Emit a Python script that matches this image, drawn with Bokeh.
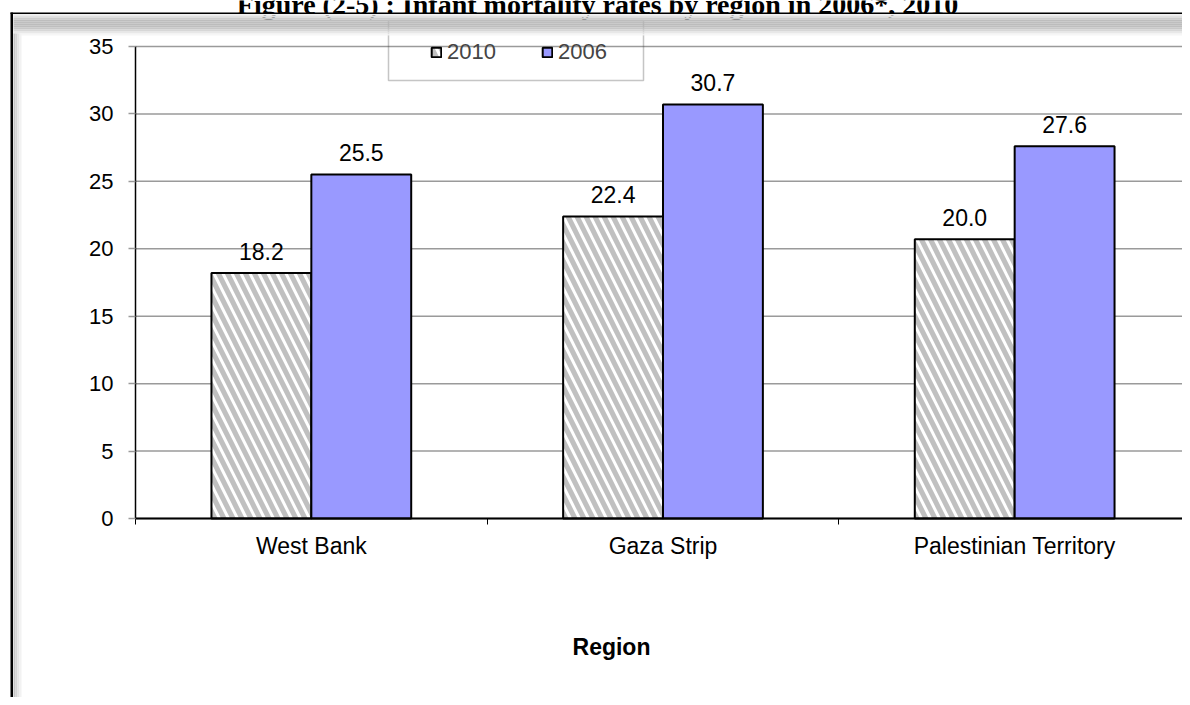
from bokeh.plotting import figure
from bokeh.models import (Range1d, FixedTicker, LinearAxis, ColumnDataSource,
                          Legend, LegendItem, BoxAnnotation, Label)
from bokeh.transform import dodge
from bokeh.core.properties import value
from bokeh.embed import file_html
from bokeh.resources import INLINE

# ---------------- data ----------------
regions = ["West Bank", "Gaza Strip", "Palestinian Territory"]
years = ["2010", "2006"]
rate_2010 = [18.2, 22.4, 20.7]
rate_2006 = [25.5, 30.7, 27.6]
label_2010 = ["18.2", "22.4", "20.0"]
label_2006 = ["25.5", "30.7", "27.6"]
y_ticks = [0, 5, 10, 15, 20, 25, 30, 35]
title_text = "Figure (2-5) : Infant mortality rates by region in 2006*, 2010"
x_title = "Region"

# ---------------- layout constants (pixels) ----------------
W, H = 1182, 697
X0_PX, XN_PX = 135, 1190      # plot area left / right
Y0_PX, YT_PX = 518, 46        # value 0 / top value
BAR_W = 0.284
FONT = "Liberation Sans"

n = len(regions)
y_max = y_ticks[-1]
x_per = (XN_PX - X0_PX) / n
y_per = (Y0_PX - YT_PX) / y_max

pos = [i + 0.5 for i in range(n)]
bounds = [i for i in range(n + 1)]
src = ColumnDataSource(dict(pos=pos, r2010=rate_2010, r2006=rate_2006,
                            l2010=label_2010, l2006=label_2006))
grid_src = ColumnDataSource(dict(y=y_ticks, x0=[0] * len(y_ticks), x1=[n] * len(y_ticks)))

p = figure(width=W, height=H,
           x_range=Range1d(-X0_PX / x_per, (W - X0_PX) / x_per),
           y_range=Range1d(-(H - Y0_PX) / y_per, y_max + YT_PX / y_per),
           x_axis_type=None, y_axis_type=None, output_backend="svg", toolbar_location=None,
           min_border=0)
p.outline_line_color = None
p.xgrid.visible = False
p.ygrid.visible = False

# horizontal grid lines (behind the bars)
p.segment(x0="x0", x1="x1", y0="y", y1="y", source=grid_src,
          line_color="#9a9a9a", line_width=1.5)

# y axis
yaxis = LinearAxis(ticker=FixedTicker(ticks=y_ticks), fixed_location=0, bounds=(0, y_max))
yaxis.axis_line_color = "black"
yaxis.axis_line_width = 1.5
yaxis.major_tick_line_color = "#9a9a9a"
yaxis.major_tick_line_width = 1.5
yaxis.major_tick_out = 7
yaxis.major_tick_in = 0
yaxis.minor_tick_line_color = None
yaxis.major_label_standoff = 15
yaxis.major_label_text_font = FONT
yaxis.major_label_text_font_size = "22px"
yaxis.major_label_text_color = "black"
p.add_layout(yaxis, "left")

# x axis: labels at category centres, ticks at category boundaries
xaxis = LinearAxis(ticker=FixedTicker(ticks=pos, minor_ticks=bounds), fixed_location=0,
                   bounds=(0, n))
xaxis.major_label_overrides = {pp: r for pp, r in zip(pos, regions)}
xaxis.axis_line_color = "black"
xaxis.axis_line_width = 2
xaxis.major_tick_line_color = None
xaxis.major_tick_out = 0
xaxis.major_tick_in = 0
xaxis.minor_tick_line_color = "black"
xaxis.minor_tick_out = 6
xaxis.minor_tick_in = 0
xaxis.major_label_standoff = 8
xaxis.major_label_text_font = FONT
xaxis.major_label_text_font_size = "23px"
xaxis.major_label_text_color = "black"
p.add_layout(xaxis, "below")

# bars
b10 = p.vbar(x=dodge("pos", -BAR_W / 2), top="r2010", width=BAR_W, source=src,
             fill_color="#c0c0c0", line_color="black", line_width=2,
             hatch_pattern="left_diagonal_line", hatch_color="white",
             hatch_weight=3, hatch_scale=18)
b06 = p.vbar(x=dodge("pos", BAR_W / 2), top="r2006", width=BAR_W, source=src,
             fill_color="#9999ff", line_color="black", line_width=2)

# value labels
for col, lab, off in (("r2010", "l2010", -BAR_W / 2), ("r2006", "l2006", BAR_W / 2)):
    p.text(x=dodge("pos", off), y=col, text=lab, source=src, text_align="center",
           text_baseline="alphabetic", y_offset=-22, text_color="black",
           text_font=value(FONT), text_font_size="23px")


# helpers: picture pixel -> screen units (origin bottom-left)
def sx(px):
    return px


def sy(py):
    return H - py


def box(x0, x1, y0, y1, **kw):
    b = BoxAnnotation(left=sx(x0), right=sx(x1), top=sy(y0), bottom=sy(y1),
                      left_units="screen", right_units="screen",
                      top_units="screen", bottom_units="screen", **kw)
    p.add_layout(b)
    return b


# title (clipped at the top edge, as in the source picture)
p.add_layout(Label(x=sx(597), y=sy(4), x_units="screen", y_units="screen", text=title_text,
                   text_align="center", text_baseline="alphabetic",
                   text_font="Liberation Serif", text_font_style="bold",
                   text_font_size="28px", text_color="black", level="underlay"))

# legend
legend = Legend(items=[LegendItem(label=years[0], renderers=[b10]),
                       LegendItem(label=years[1], renderers=[b06])],
                orientation="horizontal", location=(430, sy(65)), padding=0, margin=0,
                spacing=45, glyph_width=12, glyph_height=12, label_standoff=5,
                label_text_font=FONT, label_text_font_size="22px",
                border_line_color=None, background_fill_alpha=0)
p.add_layout(legend)
# legend frame
box(388, 643, 20, 80, fill_color=None, fill_alpha=0, line_color="#404040", line_width=1.5)

# top bevel band
band = ["#f0f0f0", "#e0e0e0", "#cccccc", "#bdbdbd", "#b3b3b3", "#b0b0b0",
        "#b3b3b3", "#bebebe", "#d0d0d0", "#e4e4e4", "#f4f4f4"]
for i, c in enumerate(band):
    box(13, 1190, 13 + 2 * i, 15 + 2 * i, fill_color=c,
        fill_alpha=1 if i < 4 else 0.85, line_color=None)
# top black line
box(10, 1190, 12, 13.5, fill_color="black", fill_alpha=1, line_color=None)
# left shadow
shadow = ["#c4c4c4", "#d4d4d4", "#e4e4e4", "#f2f2f2"]
for i, c in enumerate(shadow):
    box(13 + 2 * i, 15 + 2 * i, 33, H, fill_color=c, fill_alpha=1, line_color=None)
# left border
box(10, 12.5, 12, H, fill_color="black", fill_alpha=1, line_color=None)

# axis title
p.add_layout(Label(x=sx(611), y=sy(646), x_units="screen", y_units="screen", text=x_title,
                   text_align="center", text_baseline="alphabetic",
                   text_font=FONT, text_font_style="bold",
                   text_font_size="23px", text_color="black"))

open("out.html", "w").write(file_html(p, INLINE))
